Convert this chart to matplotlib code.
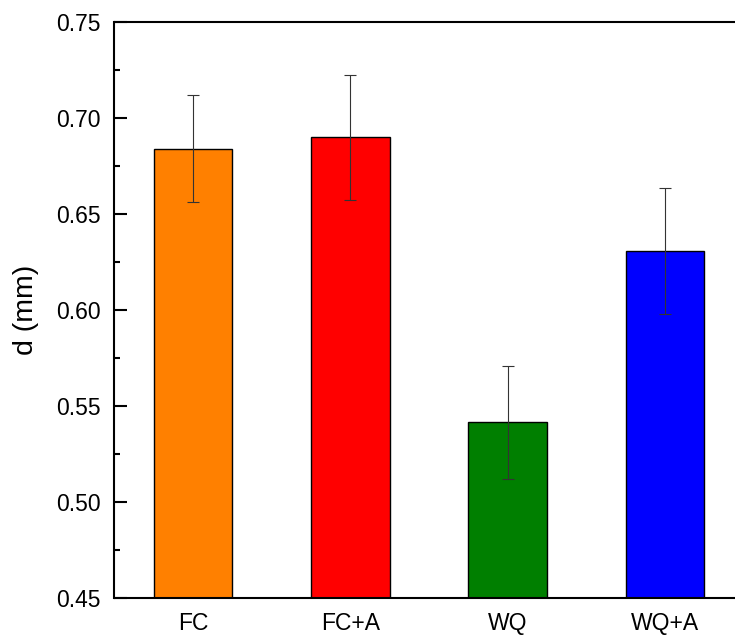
import matplotlib
matplotlib.use("Agg")
import matplotlib.pyplot as plt
from matplotlib.ticker import MultipleLocator, FormatStrFormatter

categories = ["FC", "FC+A", "WQ", "WQ+A"]
values = [0.684, 0.690, 0.5415, 0.6305]
errors = [0.0278, 0.0325, 0.0294, 0.0328]
colors = ["#FF8000", "#FF0000", "#007F00", "#0000FF"]

plt.rcParams['font.family'] = ['Liberation Sans', 'DejaVu Sans']

W, H = 735, 635
fig = plt.figure(figsize=(W / 100, H / 100), dpi=100)
left, right_px = 114.5, 114.5 + 629
top, bottom = 22, 598
ax = fig.add_axes([left / W, (H - bottom) / H, (right_px - left) / W, (bottom - top) / H])

x = list(range(len(categories)))
ax.bar(x, values, width=0.5, color=colors, edgecolor="black", linewidth=1.0, zorder=2)
ax.errorbar(x, values, yerr=errors, fmt="none", ecolor="#333333", elinewidth=0.8,
            capsize=4.5, capthick=0.8, zorder=3)

ax.set_xlim(-0.5, 3.5)
ax.set_ylim(0.45, 0.75)
ax.set_xticks(x)
ax.set_xticklabels(categories)
ax.yaxis.set_major_locator(MultipleLocator(0.05))
ax.yaxis.set_minor_locator(MultipleLocator(0.025))
ax.yaxis.set_major_formatter(FormatStrFormatter("%.2f"))

ax.tick_params(axis="y", which="major", direction="in", length=9, width=1.5,
               labelsize=16.5, pad=10)
ax.tick_params(axis="y", which="minor", direction="in", length=4.5, width=1.5)
ax.tick_params(axis="x", which="both", length=0, labelsize=16.5, pad=10)

for s in ax.spines.values():
    s.set_linewidth(1.5)

ax.set_ylabel("d (mm)", fontsize=20.5, labelpad=12)

fig.savefig("out.png", dpi=100, facecolor="white")
